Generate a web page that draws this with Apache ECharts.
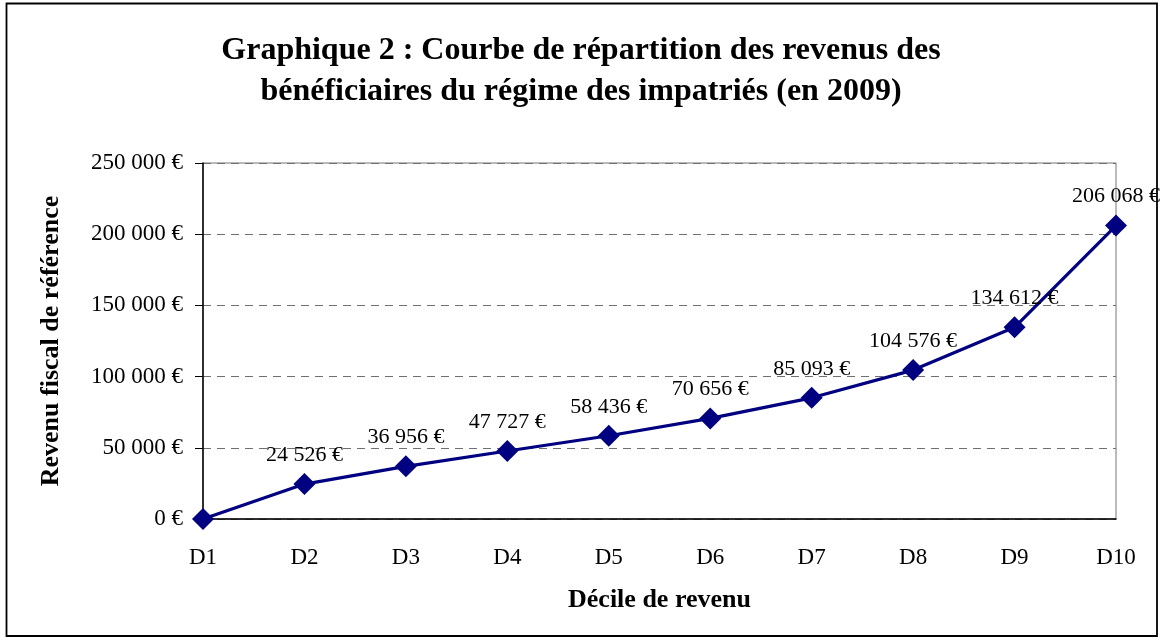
<!DOCTYPE html>
<html><head><meta charset="utf-8">
<script src="https://cdn.jsdelivr.net/npm/echarts@6/dist/echarts.min.js"></script>
<style>html,body{margin:0;padding:0;background:#fff}#c{width:1162px;height:640px}</style>
</head><body><div id="c"></div>
<script>
var categories = ['D1','D2','D3','D4','D5','D6','D7','D8','D9','D10'];
var values = [0, 24526, 36956, 47727, 58436, 70656, 85093, 104576, 134612, 206068];
var showLabel = [false, true, true, true, true, true, true, true, true, true];
var yTicks = [0, 50000, 100000, 150000, 200000, 250000];

function fmt(v){
  var s = Math.round(v).toString();
  return s.replace(/\B(?=(\d{3})+(?!\d))/g, ' ') + ' €';
}
var FONT = 'Liberation Serif';
var chart = echarts.init(document.getElementById('c'));
chart.setOption({
  backgroundColor: '#fff',
  animation: false,
  title: {
    text: 'Graphique 2 : Courbe de répartition des revenus des\nbénéficiaires du régime des impatriés (en 2009)',
    left: 'center', top: 25,
    textStyle: { fontFamily: FONT, fontSize: 32, fontWeight: 'bold', color: '#000', lineHeight: 41 }
  },
  graphic: [{
    type: 'rect', shape: { x: 6.5, y: 3.5, width: 1150.5, height: 632.5 },
    style: { fill: 'none', stroke: '#000', lineWidth: 1.8 }, silent: true
  }],
  grid: { left: 203, right: 46, top: 163, bottom: 121, show: true, borderColor: '#777', borderWidth: 1 },
  xAxis: {
    type: 'category', data: categories, boundaryGap: false,
    name: 'Décile de revenu', nameLocation: 'middle', nameGap: 68,
    nameTextStyle: { fontFamily: FONT, fontSize: 26, fontWeight: 'bold', color: '#000' },
    axisLine: { lineStyle: { color: '#000', width: 1.5 } },
    axisTick: { show: false },
    axisLabel: { fontFamily: FONT, fontSize: 23, color: '#000', margin: 27 },
    splitLine: { show: false }
  },
  yAxis: {
    type: 'value', min: yTicks[0], max: yTicks[yTicks.length - 1], interval: yTicks[1] - yTicks[0],
    name: 'Revenu fiscal de référence', nameLocation: 'middle', nameGap: 139,
    nameTextStyle: { fontFamily: FONT, fontSize: 26, fontWeight: 'bold', color: '#000' },
    axisLine: { show: true, lineStyle: { color: '#000', width: 1.5 } },
    axisTick: { show: true, length: 8, lineStyle: { color: '#000' } },
    axisLabel: { fontFamily: FONT, fontSize: 23, color: '#000', margin: 20, formatter: fmt },
    splitLine: { lineStyle: { color: '#707070', type: [8, 6], width: 1.2 } }
  },
  series: [{
    type: 'line', data: values.map(function(v, i){
      return { value: v, label: { show: showLabel[i] } };
    }),
    symbol: 'diamond', symbolSize: 22,
    lineStyle: { color: '#000080', width: 3.2 },
    itemStyle: { color: '#000080' },
    label: { show: true, position: 'top', distance: 7, fontFamily: FONT, fontSize: 22, color: '#000',
      formatter: function(p){ return fmt(p.value); } }
  }]
});
</script></body></html>
